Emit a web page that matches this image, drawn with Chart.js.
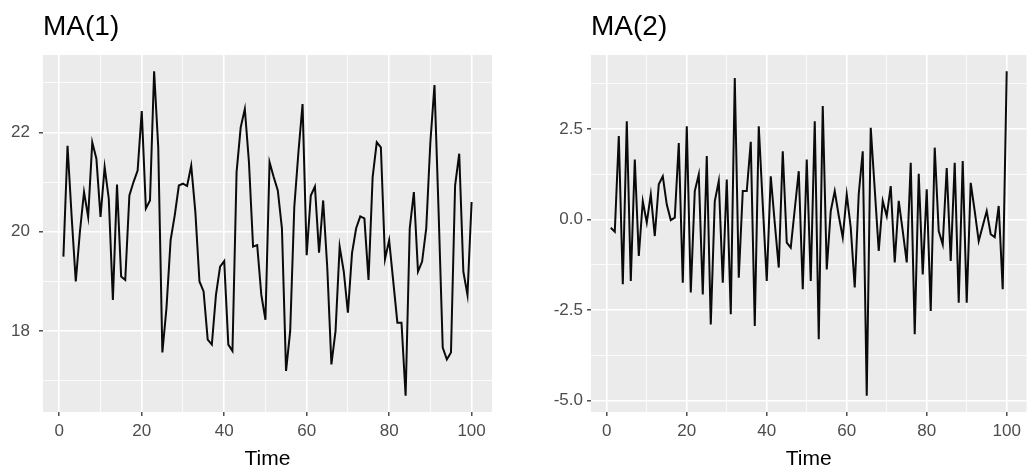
<!DOCTYPE html>
<html>
<head>
<meta charset="utf-8">
<script src="https://cdn.jsdelivr.net/npm/chart.js@4"></script>
<style>
body { margin: 0; background: #fff; }
#wrap { position: relative; width: 1027px; height: 472px; }
#wrap canvas { position: absolute; top: 0; }
</style>
</head>
<body>
<div id="wrap">
<canvas id="ma1" width="513" height="472" style="left:0px"></canvas>
<canvas id="ma2" width="514" height="472" style="left:513px"></canvas>
</div>
<script>
// time index of the two simulated series
var time = [];
for (var i = 1; i <= 100; i++) time.push(i);

var ma1 = [19.5, 21.73, 20.3, 19.0, 20.0, 20.8, 20.3, 21.8, 21.47, 20.3,
    21.3, 20.67, 18.63, 20.95, 19.1, 19.03, 20.73, 21.0, 21.23, 22.43,
    20.47, 20.63, 23.23, 21.7, 17.57, 18.47, 19.83, 20.33, 20.93, 20.97,
    20.92, 21.33, 20.4, 19.0, 18.8, 17.83, 17.73, 18.73, 19.3, 19.41,
    17.73, 17.6, 21.2, 22.1, 22.47, 21.4, 19.7, 19.73, 18.73, 18.23,
    21.4, 21.1, 20.83, 20.07, 17.2, 18.0, 20.5, 21.6, 22.57, 19.53,
    20.73, 20.91, 19.58, 20.63, 19.27, 17.33, 18.0, 19.7, 19.2, 18.37,
    19.57, 20.07, 20.31, 20.27, 19.03, 21.1, 21.8, 21.7, 19.45, 19.83,
    19.0, 18.17, 18.17, 16.7, 20.07, 20.8, 19.2, 19.4, 20.07, 21.8,
    22.95, 20.4, 17.67, 17.43, 17.57, 20.93, 21.57, 19.2, 18.73, 20.6];

var ma2 = [-0.23, -0.34, 2.30, -1.79, 2.71, -1.70, 1.65, -1.01, 0.5, -0.09,
    0.69, -0.46, 0.97, 1.19, 0.41, -0.02, 0.05, 2.11, -1.75, 2.57,
    -2.02, 0.78, 1.24, -2.07, 1.75, -2.9, 0.5, 1.06, -1.75, 1.1,
    -2.62, 3.9, -1.61, 0.78, 0.78, 2.14, -2.94, 2.57, 0.4, -1.7,
    1.19, -0.1, -1.33, 1.88, -0.64, -0.78, 0.28, 1.33, -1.93, 1.65,
    -1.7, 2.71, -3.31, 3.13, -1.38, 0.23, 0.78, 0.1, -0.5, 0.69,
    -0.23, -1.88, 0.7, 1.88, -4.87, 2.53, 0.83, -0.87, 0.51, 0.09,
    0.92, -1.19, 0.51, -0.32, -1.19, 1.56, -3.17, 1.26, -1.52, 0.83,
    -2.53, 1.98, -0.32, -0.69, 1.42, -1.15, 1.56, -2.3, 1.61, -2.3,
    1.01, 0.23, -0.6, -0.18, 0.23, -0.41, -0.49, 0.37, -1.93, 4.09];

// axis breaks (major get labels, minor only get a thin grid line)
var xTicks = [0, 20, 40, 60, 80, 100];
var xLabels = ['0', '20', '40', '60', '80', '100'];
var xMinor = [10, 30, 50, 70, 90];

var ma1Ticks = [18, 20, 22];
var ma1Labels = ['18', '20', '22'];
var ma1Minor = [17, 19, 21, 23];

var ma2Ticks = [-5, -2.5, 0, 2.5];
var ma2Labels = ['-5.0', '-2.5', '0.0', '2.5'];
var ma2Minor = [-3.75, -1.25, 1.25, 3.75];

var fontFam = "'Liberation Sans', Arial, sans-serif";

// grey panel behind the grid
var panelBg = {
    id: 'panelBg',
    beforeDraw: function(chart) {
        var a = chart.chartArea;
        var ctx = chart.ctx;
        ctx.save();
        ctx.fillStyle = '#EBEBEB';
        ctx.fillRect(a.left, a.top, a.right - a.left, a.bottom - a.top);
        ctx.restore();
    }
};

// 5% padding on each side, like ggplot
function expand(lo, hi) {
    var d = (hi - lo) * 0.05;
    return [lo - d, hi + d];
}

function makeAxis(major, labels, minor, min, max, fit, pad) {
    return {
        type: 'linear',
        min: min,
        max: max,
        afterBuildTicks: function(scale) {
            scale.ticks = major.concat(minor).sort(function(a, b) { return a - b; })
                .map(function(v) { return { value: v }; });
        },
        afterFit: fit,
        border: { display: false },
        grid: {
            color: '#FFFFFF',
            lineWidth: function(c) {
                return major.indexOf(c.tick.value) >= 0 ? 1.6 : 0.8;
            },
            tickColor: function(c) {
                return major.indexOf(c.tick.value) >= 0 ? '#333333' : 'rgba(0,0,0,0)';
            },
            tickWidth: 1.3,
            tickLength: 4
        },
        ticks: {
            autoSkip: false,
            maxRotation: 0,
            padding: pad,
            color: '#4D4D4D',
            font: { family: fontFam, size: 17 },
            callback: function(value) {
                var k = major.indexOf(value);
                return k >= 0 ? labels[k] : '';
            }
        }
    };
}

function panel(id, title, values, yMajor, yLabels, yMinor, yWidth, yPad, padRight) {
    var pts = [];
    for (var i = 0; i < time.length; i++) {
        pts.push({ x: time[i], y: values[i] });
    }
    var xr = expand(Math.min.apply(null, time), Math.max.apply(null, time));
    var yr = expand(Math.min.apply(null, values), Math.max.apply(null, values));

    var xAxis = makeAxis(xTicks, xLabels, xMinor, xr[0], xr[1], function(s) { s.height = 60; }, 5);
    xAxis.position = 'bottom';
    xAxis.title = {
        display: true,
        text: 'Time',
        color: '#000000',
        font: { family: fontFam, size: 21 },
        padding: { top: 0, bottom: 0 }
    };
    var yAxis = makeAxis(yMajor, yLabels, yMinor, yr[0], yr[1], function(s) { s.width = yWidth; }, yPad);
    yAxis.position = 'left';

    return new Chart(document.getElementById(id), {
        type: 'line',
        data: {
            datasets: [{
                data: pts,
                borderColor: '#0A0A0A',
                borderWidth: 2,
                pointRadius: 0,
                tension: 0,
                fill: false
            }]
        },
        options: {
            responsive: false,
            animation: false,
            devicePixelRatio: 1,
            layout: { padding: { left: 0, right: padRight, top: 0, bottom: 0 } },
            plugins: {
                legend: { display: false },
                tooltip: { enabled: false },
                title: {
                    display: true,
                    text: title,
                    align: 'start',
                    fullSize: false,
                    color: '#000000',
                    font: { family: fontFam, size: 28, weight: 'normal' },
                    padding: { top: 10, bottom: 11.4 }
                }
            },
            scales: { x: xAxis, y: yAxis }
        },
        plugins: [panelBg]
    });
}

panel('ma1', 'MA(1)', ma1, ma1Ticks, ma1Labels, ma1Minor, 43, 9, 21);
panel('ma2', 'MA(2)', ma2, ma2Ticks, ma2Labels, ma2Minor, 78, 4, 0.5);
</script>
</body>
</html>
